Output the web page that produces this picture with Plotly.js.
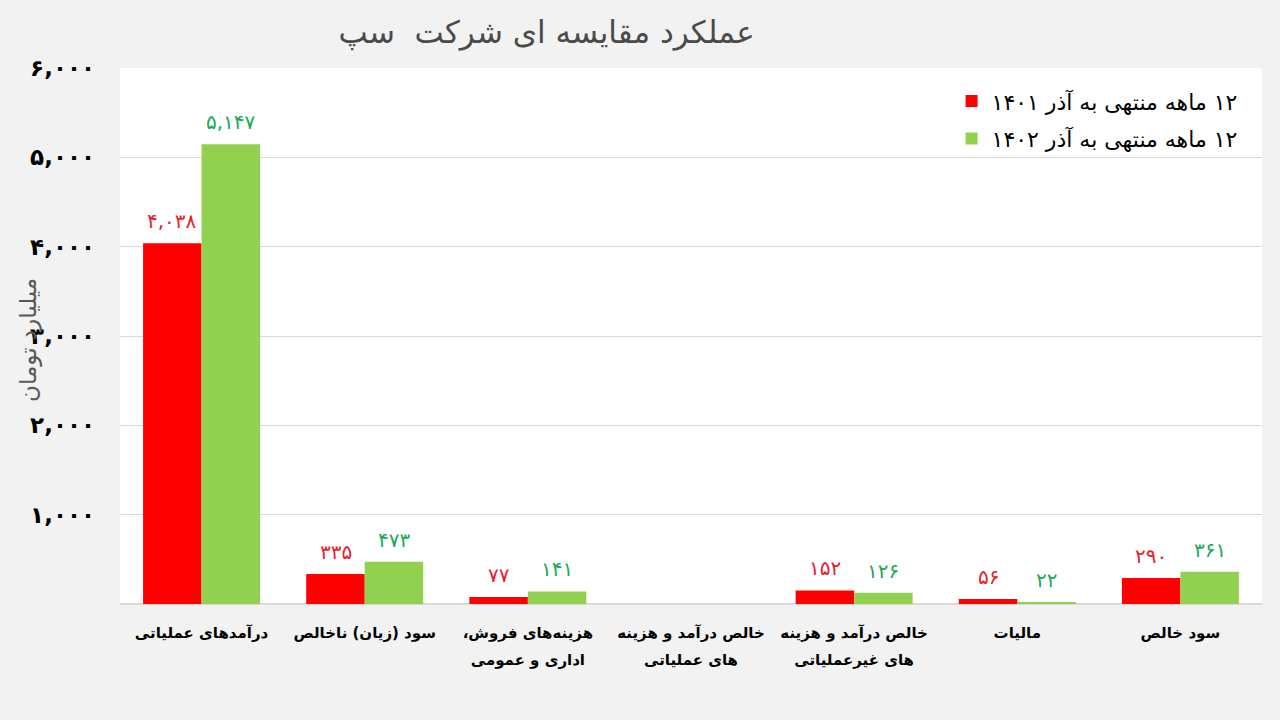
<!DOCTYPE html>
<html>
<head>
<meta charset="utf-8">
<script src="https://cdn.plot.ly/plotly-3.0.1.min.js"></script>
<style>
  html, body { margin: 0; padding: 0; background: #f2f2f2; }
  #chart { width: 1280px; height: 720px; }
</style>
</head>
<body>
<div id="chart"></div>
<script>
// Company performance comparison (12 months ending Azar 1401 vs 1402), billion toman.
const categories = [
  "درآمدهای عملیاتی",
  "سود (زیان) ناخالص",
  "هزینه‌های فروش،<br>اداری و عمومی",
  "خالص درآمد و هزینه<br>های عملیاتی",
  "خالص درآمد و هزینه<br>های غیرعملیاتی",
  "مالیات",
  "سود خالص",
];
const values1401 = [4038, 335, 77, null, 152, 56, 290];
const values1402 = [5147, 473, 141, null, 126, 22, 361];
const seriesNames = ["۱۲ ماهه منتهی به آذر ۱۴۰۱", "۱۲ ماهه منتهی به آذر ۱۴۰۲"];
const yTickVals = [1000, 2000, 3000, 4000, 5000, 6000];

const BAR_COLORS = ["#ff0000", "#92d050"];
const LABEL_COLORS = ["#e8202a", "#1aaa55"];
const FONT = "DejaVu Sans, Noto Sans, sans-serif";

// wrap every line in an RTL embedding so the browser lays Persian out right-to-left
const rtl = (s) => s.split("<br>").map((l) => "\u202B" + l + "\u202C").join("<br>");
const faDigits = (n) =>
  n.toLocaleString("en-US").replace(/\d/g, (d) => "۰۱۲۳۴۵۶۷۸۹"[d]);
// tick labels: small glyphs but the roomier line spacing of a larger tick font
const smallLines = (s) =>
  s.split("<br>").map((l) => '<span style="font-size:15px">\u202B' + l + "\u202C</span>").join("<br>");

const cats = categories.map(rtl);
const allValues = [values1401, values1402];

const traces = allValues.map((vals, i) => ({
  type: "bar",
  name: rtl(seriesNames[i]),
  x: cats,
  y: vals,
  marker: { color: BAR_COLORS[i] },
  legend: i === 0 ? "legend" : "legend2",
  hoverinfo: "y",
}));

// value labels above each bar (offset half a bar width left / right)
const annotations = [];
allValues.forEach((vals, i) => {
  vals.forEach((v, j) => {
    if (v == null) return;
    annotations.push({
      xref: "x", yref: "y",
      x: cats[j], y: v,
      xshift: i === 0 ? -29.2 : 29.2,
      yshift: 8,
      yanchor: "bottom",
      text: faDigits(v),
      showarrow: false,
      font: { family: FONT, size: 20, color: LABEL_COLORS[i] },
    });
  });
});
annotations.push({
  xref: "paper", yref: "paper",
  x: -0.0806, y: 0.4925,
  xanchor: "center", yanchor: "middle",
  textangle: -90,
  text: rtl("میلیارد تومان"),
  showarrow: false,
  font: { family: FONT, size: 23, color: "#595959" },
});

const legendBase = {
  xref: "paper", yref: "paper",
  xanchor: "right", yanchor: "middle",
  bgcolor: "rgba(0,0,0,0)",
  font: { family: FONT, size: 22, color: "#000000" },
};

const layout = {
  width: 1280,
  height: 720,
  paper_bgcolor: "#f2f2f2",
  plot_bgcolor: "#ffffff",
  margin: { l: 120, r: 18, t: 68, b: 116 },
  font: { family: FONT },
  title: {
    text: rtl("عملکرد مقایسه ای شرکت  سپ"),
    xref: "container", yref: "container",
    x: 0.427, y: 0.955,
    xanchor: "center", yanchor: "middle",
    font: { family: FONT, size: 31, color: "#4a4a4a" },
  },
  barmode: "group",
  bargap: 0.283,
  bargroupgap: 0,
  showlegend: true,
  legend: Object.assign({ x: 0.983, y: 0.938 }, legendBase),
  legend2: Object.assign({ x: 0.983, y: 0.868 }, legendBase),
  xaxis: {
    type: "category",
    showgrid: false,
    showline: false,
    ticks: "",
    tickvals: cats,
    ticktext: categories.map(smallLines),
    ticklabelstandoff: 12,
    tickfont: { family: FONT, size: 21, color: "#000000", weight: "bold" },
  },
  yaxis: {
    range: [0, 6000],
    tickvals: yTickVals,
    ticktext: yTickVals.map(faDigits),
    tickfont: { family: FONT, size: 23, color: "#000000", weight: "bold" },
    ticklabelstandoff: 24,
    gridcolor: "#d9d9d9",
    zeroline: true,
    zerolinecolor: "#d9d9d9",
    zerolinewidth: 2,
    showline: false,
  },
  annotations,
};

Plotly.newPlot("chart", traces, layout, { staticPlot: true, displayModeBar: false });
</script>
</body>
</html>
